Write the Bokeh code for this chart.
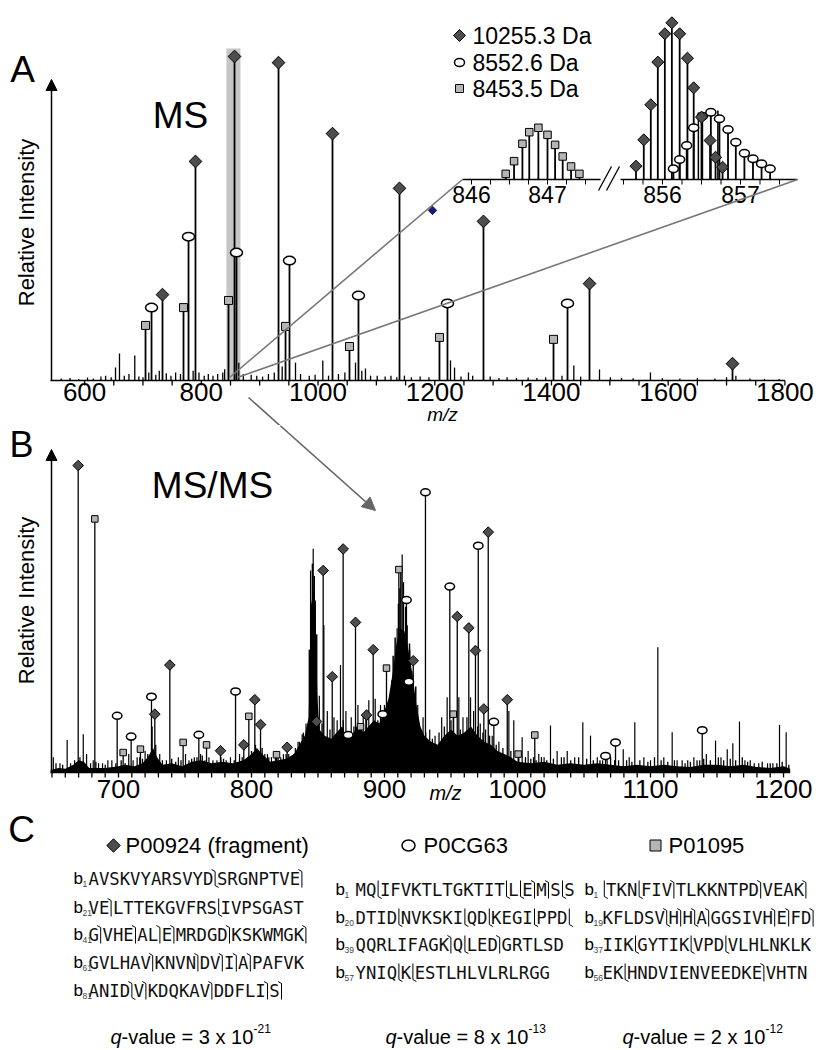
import numpy as np
from bokeh.plotting import figure
from bokeh.layouts import column
from bokeh.models import Range1d, Label, Arrow, NormalHead
from bokeh.core.properties import value
from bokeh.embed import file_html
from bokeh.resources import INLINE

SANS = "Liberation Sans"
MONO = "DejaVu Sans Mono"
DIA_FILL = "#4d4d4d"
SQ_FILL = "#b5b5b5"

# ---------------- Panel A (MS) data ----------------
A_DIA_MZ = [733.5, 790.0, 856.9, 932.3, 1024.8, 1139.6, 1283.5, 1465.2, 1710.2]
A_DIA_I = [26.5, 67.6, 100.0, 98.1, 76.2, 59.3, 49.1, 29.9, 5.2]
A_CIR_MZ = [714.7, 778.1, 860.3, 951.1, 1069.3, 1221.8, 1427.5]
A_CIR_I = [22.5, 44.4, 39.5, 37.0, 26.2, 23.8, 23.8]
A_SQ_MZ = [704.4, 769.5, 846.6, 944.3, 1053.9, 1208.1, 1403.5]
A_SQ_I = [17.0, 22.5, 24.7, 16.7, 10.5, 13.3, 12.7]
A_PEAK_MZ = [560, 575, 590, 605, 615, 628, 636, 645.6, 653, 659.8, 668, 676, 686, 693, 700,
             710, 722, 728, 740, 748, 756, 764.3, 786, 796, 805, 812, 820, 828, 836.8, 840,
             864.2, 872, 885.5, 895, 905, 915, 925, 938.6, 961.4, 970, 985, 995, 1008.2, 1018,
             1035, 1046, 1064.2, 1075, 1081.3, 1090, 1101.4, 1115, 1125, 1135, 1148, 1160, 1175,
             1190, 1227, 1233.9, 1245, 1257.8, 1265, 1295, 1310, 1324, 1340, 1360, 1375, 1390,
             1418, 1438.3, 1450, 1482.3, 1501, 1520, 1540, 1569.6, 1590, 1620, 1650, 1680, 1700,
             1716, 1740, 1765, 1790]
A_PEAK_I = [0.6, 0.8, 0.5, 0.9, 0.6, 1.2, 1.5, 1.0, 4.0, 8.3, 1.5, 2.0, 7.7, 1.2, 1.0,
            2.5, 1.8, 3.0, 2.2, 1.5, 2.5, 2.0, 3.0, 2.5, 1.5, 2.0, 1.5, 2.0, 2.5, 3.5,
            5.5, 2.0, 1.8, 1.5, 1.2, 2.0, 2.5, 4.3, 5.5, 2.0, 1.5, 1.8, 6.2, 1.5,
            2.0, 2.5, 5.5, 3.0, 3.7, 1.5, 1.5, 1.2, 1.5, 1.0, 1.5, 1.0, 1.2,
            1.0, 6.2, 4.0, 1.2, 2.5, 1.5, 1.2, 0.8, 1.0, 0.8, 0.9, 0.8, 1.0,
            1.5, 4.6, 1.2, 3.4, 1.0, 0.8, 0.7, 2.5, 0.7, 0.6, 0.8, 0.6, 1.0,
            1.5, 0.6, 0.5, 0.5]
A_WINDOW = (843.0, 867.0, 102.5)      # isolation window (m/z from, m/z to, height)
A_ZOOM_FROM = (849.0, 863.0)
A_ARTIFACT = (1196.2, 52.5)
A_TICKS = [600, 800, 1000, 1200, 1400, 1600, 1800]
A_TICK_LABELS = ["600", "800", "1000", "1200", "1400", "1600", "1800"]
A_MINOR = 50

# inset (zoom on m/z 846-857)
IN_SQ_MZ = [846.45, 846.56, 846.67, 846.76, 846.88, 847.0, 847.1, 847.2, 847.31, 847.42]
IN_SQ_I = [3.6, 11.7, 22.8, 30.2, 33.0, 28.5, 22.1, 14.7, 8.3, 3.6]
IN_DIA_MZ = [855.66, 855.76, 855.85, 855.94, 856.03, 856.12, 856.22, 856.32, 856.40, 856.50,
             856.61, 856.68, 856.77]
IN_DIA_I = [8.5, 25.3, 47.7, 74.9, 93.0, 100.0, 93.0, 77.4, 58.5, 39.8, 24.9, 14.2, 7.8]
IN_CIR_MZ = [856.14, 856.22, 856.31, 856.40, 856.51, 856.62, 856.73, 856.84, 856.94, 857.05,
             857.16, 857.27, 857.38]
IN_CIR_I = [6.8, 12.8, 21.7, 33.0, 40.4, 42.9, 38.7, 31.9, 23.8, 16.8, 13.2, 10.0, 6.8]
IN_OTHER_MZ = [856.46, 856.71]
IN_OTHER_I = [42.8, 44.0]
IN_LEFT_TICKS = [846.0, 846.25, 846.5, 846.75, 847.0, 847.25, 847.5]
IN_RIGHT_TICKS = [855.5, 855.75, 856.0, 856.25, 856.5, 856.75, 857.0, 857.25, 857.5]
IN_LEFT_LABELS = ["846", "847"]
IN_RIGHT_LABELS = ["856", "857"]
IN_LEGEND = ["10255.3 Da", "8552.6 Da", "8453.5 Da"]

# ---------------- Panel B (MS/MS) data ----------------
B_DIA_MZ = [669.7, 727.3, 738.6, 776.7, 794.2, 802.5, 806.8, 826.8, 848.9, 853.9, 860.7,
            868.9, 878.2, 886.5, 891.5, 921.6, 954.7, 963.4, 968.4, 974.7, 978.0, 992.3]
B_DIA_I = [100, 19.0, 35.0, 7.1, 9.0, 23.7, 15.6, 8.2, 16.6, 65.8, 31.2,
           72.8, 48.9, 18.7, 40.0, 36.4, 50.8, 47.1, 39.7, 20.7, 78.3, 23.7]
B_CIR_MZ = [699.0, 709.5, 724.8, 760.4, 788.0, 872.7, 898.7, 916.5, 918.3, 930.8, 949.1,
            970.5, 982.2, 1066.2, 1073.7, 1138.9]
B_CIR_I = [18.5, 11.7, 24.7, 12.3, 26.4, 12.2, 19.0, 56.2, 29.6, 91.3, 60.6,
           73.9, 16.5, 5.4, 9.8, 13.8]
B_SQ_MZ = [682.2, 703.5, 716.5, 748.6, 766.2, 798.0, 818.8, 882.0, 901.5, 910.8, 951.7,
           1000.5, 1013.0]
B_SQ_I = [82.6, 6.5, 7.6, 9.8, 9.0, 18.3, 5.8, 14.9, 34.0, 66.1, 19.0, 6.0, 12.2]
B_ENV_MZ = [649, 655, 660, 666, 670, 674, 678, 690, 700, 705, 712, 718, 722, 726, 729, 733,
            740, 748, 755, 762, 770, 778, 786, 794, 800, 804, 808, 814, 820, 826, 832, 836,
            840, 843, 845, 846.5, 848, 849.5, 851, 855, 860, 864, 868, 872, 876, 880, 884,
            888, 892, 896, 900, 903, 906, 909, 912, 915, 918, 921, 924, 927, 930, 935, 940,
            945, 950, 955, 960, 965, 970, 975, 980, 985, 990, 995, 1000, 1010, 1020, 1030,
            1040, 1050, 1060, 1070, 1080, 1090, 1100, 1110, 1120, 1130, 1140, 1150, 1160,
            1170, 1180, 1190, 1200, 1205]
B_ENV_I = [0.8, 1.5, 1.2, 2.5, 4, 3.5, 1.5, 1.5, 2, 2.5, 2, 3, 5, 8, 5, 2.5,
           3, 2, 3.5, 4, 3, 3.5, 3, 4, 6, 8, 6, 3.5, 4, 4.5, 6, 9,
           12, 18, 55, 60, 55, 25, 14, 12, 11, 13, 15, 11, 12, 16, 13,
           15, 17, 16, 20, 24, 32, 42, 47, 46, 40, 32, 22, 15, 12, 10, 9,
           12, 14, 12, 13, 15, 12, 10, 9, 7, 6, 5, 3.5, 3, 3.5, 2.5,
           3, 2.5, 3, 2.5, 2, 2.5, 2, 2.5, 2, 1.8, 2.5, 2.5, 2,
           2.5, 1.8, 1.5, 2, 1.2]
B_SPK_MZ = [651, 656, 661.4, 664, 673.5, 676, 681, 685, 688, 692, 695, 707.7, 711, 714, 720,
            725.3, 731, 736, 745, 750.4, 753, 757, 761.7, 765, 768, 771, 774, 781, 784.2, 791,
            797, 806.8, 810, 812, 815, 818, 822, 824, 828, 831.8, 835, 838.1, 841, 844.4, 846.4,
            848, 851, 854.4, 857, 862, 864.4, 866.9, 871, 875, 880, 884, 888.2, 893, 897, 904.5,
            907, 909.5, 911.5, 913.3, 915.8, 919, 922.1, 925, 929, 934, 938, 943, 947.1, 952,
            955.9, 959, 964.7, 967, 972, 976, 981, 986, 993.5, 997.2, 1003.5, 1008, 1012, 1016,
            1020, 1024.8, 1029.8, 1033, 1037.4, 1043, 1049.1, 1054.9, 1060, 1064, 1067.4, 1073,
            1079.5, 1084, 1088.2, 1095, 1100, 1105.5, 1110, 1116.3, 1120, 1123.8, 1128, 1132.6,
            1137, 1142, 1148.9, 1153, 1157.7, 1161.9, 1166.9, 1171, 1175, 1181.4, 1188, 1192,
            1197.0, 1202.0]
B_SPK_I = [5, 3, 10.6, 3, 12.5, 6, 4, 3, 3, 4, 4, 6, 4, 5, 7,
           15, 6, 4, 5, 6, 4, 5, 6, 4, 5, 4, 4, 4, 5, 6,
           5, 8, 6, 6, 5, 5, 5, 6, 6, 6, 10, 12.5, 16, 65.8, 72.9,
           56, 25, 48, 20, 18, 17, 35, 20, 18, 22, 19, 23.5, 24, 22, 21,
           30, 47, 60, 71, 54, 40, 25.6, 22, 18, 14, 12, 18, 24.5, 20,
           24.5, 18, 24.5, 20, 16, 14, 12, 10, 20, 17, 11.5, 7, 5, 6,
           5, 15.3, 7, 5, 7, 5, 16.4, 12, 5, 4, 6, 4,
           7.6, 5, 16.4, 5, 4, 40.8, 5, 13.1, 4, 4, 4, 5,
           4, 6, 10.4, 5, 7.6, 9.5, 16.6, 4, 4, 3, 3, 3,
           15.5, 13.1]
B_CLUSTER_MZ = [843.5, 845.0, 845.8, 847.2, 849.0, 905.5, 906.5, 908.0, 910.5, 912.3, 914.2,
                917.0, 918.8, 920.5, 923.5]
B_CLUSTER_I = [40, 55, 68, 64, 45, 30, 38, 44, 55, 66, 62, 48, 42, 33, 28]
B_GRASS_MZ = [653, 658, 667, 671, 679, 683, 690, 698, 702, 705, 716, 718, 722, 728, 733, 740,
              743, 747, 755, 759, 763, 777, 779, 787, 793, 800, 803, 808, 813, 820, 826, 833,
              836, 839, 853, 859, 869, 877, 886, 895, 900, 926, 931, 936, 941, 945, 950, 957,
              962, 970, 974, 979, 984, 989, 995, 1001, 1006, 1010, 1014, 1018, 1022, 1027,
              1035, 1040, 1046, 1052, 1057, 1062, 1070, 1076, 1082, 1086, 1092, 1098, 1103,
              1108, 1113, 1118, 1126, 1130, 1135, 1140, 1145, 1151, 1155, 1160, 1164, 1169,
              1173, 1178, 1184, 1190, 1195, 1199, 1204]
B_GRASS_I = [3, 2.5, 4, 5, 3, 3.5, 2.5, 3, 4, 3, 5, 4.5, 6, 9, 4, 4.5,
             3.5, 4, 4.5, 5, 5.5, 5, 4.5, 4, 5, 7, 9, 8, 5, 5, 6, 8,
             10, 13, 16, 14, 17, 15, 18, 17, 22, 16, 13, 11, 13, 15, 17, 14,
             18, 15, 13, 12, 9, 8, 7, 5, 5, 4.5, 4, 5, 4, 4.5,
             5, 4, 5, 4.5, 4, 4, 5, 4, 4, 3.5, 4, 3.5, 5,
             4, 3.5, 4, 3, 3.5, 4, 4.5, 4, 5, 4, 4.5, 4, 5,
             3.5, 3, 3.5, 3, 3, 3.5, 2.5]
B_TICKS = [700, 800, 900, 1000, 1100, 1200]
B_TICK_LABELS = ["700", "800", "900", "1000", "1100", "1200"]
B_MINOR = 10
B_XLIM = (650, 1205)

# ---------------- Panel C data ----------------
PROTEINS = ["P00924 (fragment)", "P0CG63", "P01095"]
SEQ_P00924 = [("1", "AVSKVYARSVYD{SRGNPTVE]"), ("21", "VE]LTTEKGVFRS[IVPSGAST"),
              ("41", "G]VHE]AL]E]MRDGD]KSKWMGK]"), ("61", "GVLHAV]KNVN]DV]I]A]PAFVK"),
              ("81", "ANID{V]KDQKAV]DDFLI]S]")]
SEQ_P0CG63 = [("1", "MQ[IFVKTLTGKTIT[L[E]M]S[S"), ("20", "DTID[NVKSKI[QD[KEGI[PPD["),
              ("39", "QQRLIFAGK]Q[LED]GRTLSD"), ("57", "YNIQ[K[ESTLHLVLRLRGG")]
SEQ_P01095 = [("1", "[TKN[FIV]TLKKNTPD]VEAK]"), ("19", "KFLDSV{H]H{A]GGSIVH]E]FD]"),
              ("37", "IIK[GYTIK[VPD[VLHLNKLK"), ("56", "EK[HNDVIENVEEDKE]VHTN")]
Q_MANT = ["3", "8", "2"]
Q_EXP = ["-21", "-13", "-12"]


# ---------------- geometry helpers (page pixels) ----------------
class Map:
    def __init__(self, v0, p0, v1, p1):
        self.v0, self.p0 = v0, p0
        self.k = (p1 - p0) / (v1 - v0)

    def px(self, v):
        return self.p0 + (v - self.v0) * self.k

    def val(self, p):
        return self.v0 + (p - self.p0) / self.k


W = 819
AX = Map(733.5, 162.0, 1710.2, 732.0)
AY = Map(0.0, 380.0, 100.0, 56.0)
LX = Map(846.0, 471.0, 847.0, 547.0)
RX = Map(856.0, 662.0, 857.0, 740.0)
IY = Map(0.0, 179.0, 100.0, 22.3)
BX = Map(700.0, 118.0, 800.0, 251.0)
BY = Map(0.0, 772.0, 100.0, 465.0)

A_TOP, A_H = 0, 425
B_TOP, B_H = 425, 380
C_TOP, C_H = 805, 244


def new_fig(top, h, xm, ym):
    p = figure(width=W, height=h,
               x_range=Range1d(xm.val(0), xm.val(W)),
               y_range=Range1d(ym.val(top + h), ym.val(top)),
               min_border=0, x_axis_location=None, y_axis_location=None,
               output_backend="svg", toolbar_location=None)
    p.grid.visible = False
    p.outline_line_color = None
    return p


def stems(p, mz, inten, lw, **kw):
    return p.segment(x0=mz, y0=[0] * len(mz), x1=mz, y1=inten,
                     line_color="black", line_width=lw, **kw)


def diamonds(p, mz, inten, size, **kw):
    return p.scatter(x=mz, y=inten, marker="square", angle=np.pi / 4, size=size,
                     fill_color=DIA_FILL, line_color="black", line_width=1, **kw)


def ovals(p, mz, inten, w, h, **kw):
    return p.ellipse(x=mz, y=inten, width=w, height=h, width_units="screen",
                     height_units="screen", fill_color="white", line_color="black",
                     line_width=1.5, **kw)


def squares(p, mz, inten, size, **kw):
    return p.scatter(x=mz, y=inten, marker="square", size=size, fill_color=SQ_FILL,
                     line_color="black", line_width=1, **kw)


def label(p, xm, ym, px, py, text, size, align="center", **kw):
    p.add_layout(Label(x=xm.val(px), y=ym.val(py), text=text, text_font=SANS,
                       text_font_size=size, text_align=align, text_color="black",
                       text_baseline="middle", **kw))


def x_axis(p, xm, ym, base_px, lo, hi, step, majors, labels, lab_top_px, size="26px"):
    minors = list(np.arange(lo, hi + step / 2, step))
    tick_end = ym.val(base_px + 5)
    p.segment(x0=minors, y0=[0] * len(minors), x1=minors, y1=[tick_end] * len(minors),
              line_color="black", line_width=1.3)
    p.text(x=majors, y=[ym.val(lab_top_px)] * len(majors), text=labels,
           text_font=value(SANS), text_font_size=size, text_align="center",
           text_baseline="top", text_color="black")


def y_arrow(p, xm, ym, x_px, tip_px):
    p.add_layout(Arrow(end=NormalHead(size=11, fill_color="black", line_color="black"),
                       x_start=xm.val(x_px), y_start=0, x_end=xm.val(x_px), y_end=ym.val(tip_px),
                       line_color="black", line_width=1.5))


# ======================= Panel A =======================
pA = new_fig(A_TOP, A_H, AX, AY)
pA.extra_x_ranges = {"L": Range1d(LX.val(0), LX.val(W)), "R": Range1d(RX.val(0), RX.val(W))}
pA.extra_y_ranges = {"I": Range1d(IY.val(A_TOP + A_H), IY.val(A_TOP))}

pA.quad(left=[A_WINDOW[0]], right=[A_WINDOW[1]], bottom=[0], top=[A_WINDOW[2]],
        fill_color="#c6c6c6", line_color=None)
pA.segment(x0=[AX.val(50)], y0=[0], x1=[A_TICKS[-1]], y1=[0], line_color="black", line_width=1.5)
x_axis(pA, AX, AY, 380, A_TICKS[0], A_TICKS[-1], A_MINOR, A_TICKS, A_TICK_LABELS, 382)
stems(pA, A_PEAK_MZ, A_PEAK_I, 1.3)
stems(pA, A_SQ_MZ, A_SQ_I, 1.8)
stems(pA, A_CIR_MZ, A_CIR_I, 1.8)
stems(pA, A_DIA_MZ, A_DIA_I, 1.8)
squares(pA, A_SQ_MZ, A_SQ_I, 8)
ovals(pA, A_CIR_MZ, A_CIR_I, 12, 8.5)
diamonds(pA, A_DIA_MZ, A_DIA_I, 9)

# inset
ins = dict(y_range_name="I")
pA.segment(x0=[LX.val(462)], y0=[0], x1=[LX.val(600)], y1=[0], x_range_name="L",
           line_color="black", line_width=1.5, **ins)
pA.segment(x0=[RX.val(620)], y0=[0], x1=[RX.val(797)], y1=[0], x_range_name="R",
           line_color="black", line_width=1.5, **ins)
tick_len = IY.val(184)
pA.segment(x0=IN_LEFT_TICKS, y0=[0] * len(IN_LEFT_TICKS), x1=IN_LEFT_TICKS,
           y1=[tick_len] * len(IN_LEFT_TICKS), x_range_name="L", line_color="black", **ins)
pA.segment(x0=IN_RIGHT_TICKS, y0=[0] * len(IN_RIGHT_TICKS), x1=IN_RIGHT_TICKS,
           y1=[tick_len] * len(IN_RIGHT_TICKS), x_range_name="R", line_color="black", **ins)
lab_y = IY.val(185)
pA.text(x=[float(t) for t in IN_LEFT_LABELS], y=[lab_y] * 2, text=IN_LEFT_LABELS,
        x_range_name="L", text_font=value(SANS), text_font_size="23px",
        text_align="center", text_baseline="top", **ins)
pA.text(x=[float(t) for t in IN_RIGHT_LABELS], y=[lab_y] * 2, text=IN_RIGHT_LABELS,
        x_range_name="R", text_font=value(SANS), text_font_size="23px",
        text_align="center", text_baseline="top", **ins)
pA.segment(x0=[AX.val(598), AX.val(606)], y0=[AY.val(190)] * 2,
           x1=[AX.val(611), AX.val(619)], y1=[AY.val(166)] * 2,
           line_color="black", line_width=1.3)
stems(pA, IN_SQ_MZ, IN_SQ_I, 1.8, x_range_name="L", **ins)
stems(pA, IN_OTHER_MZ, IN_OTHER_I, 1.5, x_range_name="R", **ins)
stems(pA, IN_CIR_MZ, IN_CIR_I, 1.8, x_range_name="R", **ins)
stems(pA, IN_DIA_MZ, IN_DIA_I, 1.8, x_range_name="R", **ins)
squares(pA, IN_SQ_MZ, IN_SQ_I, 7.5, x_range_name="L", **ins)
ovals(pA, IN_CIR_MZ, IN_CIR_I, 10, 7.5, x_range_name="R", **ins)
diamonds(pA, IN_DIA_MZ, IN_DIA_I, 8.5, x_range_name="R", **ins)

# inset key
KEY_X, KEY_Y, KEY_TX = 459, [35, 62, 88], 472
diamonds(pA, [AX.val(KEY_X)], [AY.val(KEY_Y[0])], 8.5)
ovals(pA, [AX.val(KEY_X)], [AY.val(KEY_Y[1])], 10, 8)
squares(pA, [AX.val(KEY_X)], [AY.val(KEY_Y[2])], 8)
pA.text(x=[AX.val(KEY_TX)] * 3, y=[AY.val(v) for v in KEY_Y], text=IN_LEGEND,
        text_font=value(SANS), text_font_size="23px", text_align="left",
        text_baseline="middle", text_color="black")

# zoom connector lines
zx_l, zx_r = AX.val(462), AX.val(797)
zy = AY.val(IY.px(0))
pA.segment(x0=list(A_ZOOM_FROM), y0=[1, 1], x1=[zx_l, zx_r], y1=[zy, zy],
           line_color="#777777", line_width=1.6)
pA.scatter(x=[A_ARTIFACT[0]], y=[A_ARTIFACT[1]], marker="square", angle=np.pi / 4, size=6,
           fill_color="#1c1c6a", line_color="#1c1c6a")

y_arrow(pA, AX, AY, 51, 79)
label(pA, AX, AY, 22, 69, "A", "37px")
label(pA, AX, AY, 180, 115, "MS", "37px")
label(pA, AX, AY, 26, 222, "Relative Intensity", "22px", angle=np.pi / 2)
label(pA, AX, AY, 442, 414, "m/z", "19px", text_font_style="italic")

# arrow from precursor to MS/MS (split across the two panels)
AR0, AR1 = (248.0, 397.0), (375.0, 510.0)
SPLIT = float(B_TOP)
ar_mid_x = AR0[0] + (SPLIT - AR0[1]) * (AR1[0] - AR0[0]) / (AR1[1] - AR0[1])
pA.add_layout(Arrow(end=None, x_start=AX.val(AR0[0]), y_start=AY.val(AR0[1]),
                    x_end=AX.val(ar_mid_x + 1), y_end=AY.val(SPLIT + 1),
                    line_color="#666666", line_width=1.6))

# ======================= Panel B =======================
pB = new_fig(B_TOP, B_H, BX, BY)
pB.varea(x=B_ENV_MZ, y1=[0] * len(B_ENV_MZ), y2=B_ENV_I, fill_color="black")
pB.segment(x0=[BX.val(50)], y0=[0], x1=[B_XLIM[1]], y1=[0], line_color="black", line_width=1.5)
x_axis(pB, BX, BY, 772, B_XLIM[0], 1200, B_MINOR, B_TICKS, B_TICK_LABELS, 779)
stems(pB, B_GRASS_MZ, B_GRASS_I, 1.3)
stems(pB, B_CLUSTER_MZ, B_CLUSTER_I, 1.5)
stems(pB, B_SPK_MZ, B_SPK_I, 1.2)
stems(pB, B_SQ_MZ, B_SQ_I, 1.3)
stems(pB, B_CIR_MZ, B_CIR_I, 1.3)
stems(pB, B_DIA_MZ, B_DIA_I, 1.3)
squares(pB, B_SQ_MZ, B_SQ_I, 6.5)
ovals(pB, B_CIR_MZ, B_CIR_I, 9.5, 7)
diamonds(pB, B_DIA_MZ, B_DIA_I, 7.5)
y_arrow(pB, BX, BY, 51, 449)
pB.add_layout(Arrow(end=NormalHead(size=13, fill_color="#666666", line_color="#666666"),
                    x_start=BX.val(ar_mid_x), y_start=BY.val(SPLIT),
                    x_end=BX.val(AR1[0]), y_end=BY.val(AR1[1]),
                    line_color="#666666", line_width=1.6))
label(pB, BX, BY, 21, 444, "B", "36px")
label(pB, BX, BY, 212, 485, "MS/MS", "37px")
label(pB, BX, BY, 26, 600, "Relative Intensity", "22px", angle=np.pi / 2)
label(pB, BX, BY, 445, 792, "m/z", "20px", text_font_style="italic")

# ======================= Panel C =======================
pC = figure(width=W, height=C_H, x_range=Range1d(0, W), y_range=Range1d(C_TOP + C_H, C_TOP),
            min_border=0, x_axis_location=None, y_axis_location=None,
            output_backend="svg", toolbar_location=None)
pC.grid.visible = False
pC.outline_line_color = None

pC.text(x=[21], y=[829], text=["C"], text_font=value(SANS), text_font_size="37px",
        text_align="center", text_baseline="middle")
LEG_Y = 845
pC.scatter(x=[113], y=[LEG_Y], marker="square", angle=np.pi / 4, size=9.5,
           fill_color=DIA_FILL, line_color="black")
pC.ellipse(x=[408], y=[LEG_Y], width=13, height=11, width_units="screen", height_units="screen",
           fill_color="white", line_color="black", line_width=1.5)
pC.scatter(x=[655], y=[LEG_Y], marker="square", size=11, fill_color=SQ_FILL, line_color="black")
pC.text(x=[125, 423, 668], y=[LEG_Y] * 3, text=PROTEINS, text_font=value(SANS),
        text_font_size="22px", text_align="left", text_baseline="middle")

L_ADV, M_ADV = 10.4, 3.6
COLS = [(SEQ_P00924, 73, 88, [878, 907, 934, 962, 990]),
        (SEQ_P0CG63, 335, 355, [889, 917, 944, 972]),
        (SEQ_P01095, 584, 602, [889, 917, 944, 972])]
run_x, run_y, run_t = [], [], []
b_x, b_y, sub_x, sub_y, sub_t = [], [], [], [], []
mk_xs, mk_ys = [], []
for seqs, bx, sx, rows in COLS:
    for (num, seq), y in zip(seqs, rows):
        b_x.append(bx); b_y.append(y); sub_x.append(bx + 9); sub_y.append(y + 5); sub_t.append(num)
        x, cur, cur_x = sx, "", sx
        for ch in seq:
            if ch in "[]{":
                if cur:
                    run_x.append(cur_x); run_y.append(y); run_t.append(cur)
                xm = x + M_ADV / 2
                top, bot = y - 9, y + 9
                if ch == "]":
                    mk_xs.append([xm - 3.5, xm, xm]); mk_ys.append([top, top + 2, bot])
                elif ch == "[":
                    mk_xs.append([xm, xm, xm + 3.5]); mk_ys.append([top, bot - 2, bot])
                else:
                    mk_xs.append([xm - 3.5, xm, xm, xm + 3.5]); mk_ys.append([top, top + 2, bot - 2, bot])
                x += M_ADV
                cur, cur_x = "", x
            else:
                cur += ch
                x += L_ADV
        if cur:
            run_x.append(cur_x); run_y.append(y); run_t.append(cur)

pC.text(x=run_x, y=run_y, text=run_t, text_font=value(MONO), text_font_size="17.3px",
        text_align="left", text_baseline="middle", text_color="#111111")
pC.multi_line(xs=mk_xs, ys=mk_ys, line_color="black", line_width=1)
pC.text(x=b_x, y=b_y, text=["b"] * len(b_x), text_font=value(SANS), text_font_size="17px",
        text_align="left", text_baseline="middle")
pC.text(x=sub_x, y=sub_y, text=sub_t, text_font=value(SANS), text_font_size="8.5px",
        text_align="left", text_baseline="middle", text_color="#444444")

Q_Y = 1036
Q_X = [110, 385, 622]
pC.text(x=Q_X, y=[Q_Y] * 3, text=["q"] * 3, text_font=value(SANS), text_font_size="20px",
        text_font_style="italic", text_align="left", text_baseline="middle")
pC.text(x=[q + 11 for q in Q_X], y=[Q_Y] * 3, text=[f"-value = {m} x 10" for m in Q_MANT],
        text_font=value(SANS), text_font_size="20px", text_align="left", text_baseline="middle")
pC.text(x=[q + 11 + 132 for q in Q_X], y=[Q_Y - 8] * 3, text=Q_EXP, text_font=value(SANS),
        text_font_size="12px", text_align="left", text_baseline="middle")

layout = column(pA, pB, pC, spacing=0)
open("out.html", "w").write(file_html(layout, INLINE))
